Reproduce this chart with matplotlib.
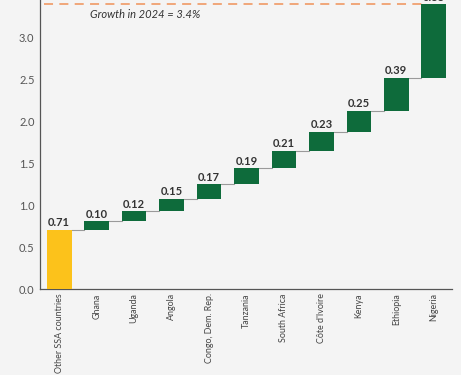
import matplotlib.pyplot as plt
import numpy as np

countries = ["Other SSA countries", "Ghana", "Uganda", "Angola", "Congo, Dem. Rep.",
             "Tanzania", "South Africa", "Côte d'Ivoire", "Kenya", "Ethiopia", "Nigeria"]
contrib = [0.71, 0.10, 0.12, 0.15, 0.17, 0.19, 0.21, 0.23, 0.25, 0.39, 0.88]
total_growth = 3.4

plt.rcParams['font.family'] = ['Lato', 'DejaVu Sans']

bg = "#f4f4f4"
green = "#0e6b3b"
yellow = "#fcc21b"

fig = plt.figure(figsize=(4.61, 3.75), dpi=100, facecolor=bg)
ax = fig.add_axes([0.087, 0.229, 0.893, 0.771])
ax.set_facecolor(bg)

x = np.arange(len(countries))
vals = np.array(contrib)
tops = np.cumsum(vals)
bottoms = tops - vals
colors = [yellow] + [green] * (len(vals) - 1)
w = 0.66

ax.bar(x, vals, bottom=bottoms, width=w, color=colors, zorder=3)

# connectors
for i in range(len(vals) - 1):
    ax.plot([x[i] + w / 2, x[i + 1] - w / 2], [tops[i], tops[i]],
            color="#9a9a9a", lw=0.8, zorder=2)

for i in range(len(vals)):
    ax.text(x[i], tops[i] + 0.02, f"{vals[i]:.2f}", ha="center", va="bottom",
            fontsize=8, fontweight="bold", color="#333333")

ax.axhline(total_growth, xmin=0.01, xmax=0.93, color="#f0a070", lw=1.3,
           ls=(0, (5, 3.5)), zorder=1)
ax.text(0.83, 3.28, "Growth in 2024 = 3.4%", ha="left", va="center",
        fontsize=8, style="italic", color="#333333")

ax.set_xlim(-0.51, 10.48)
ax.set_ylim(0, 3.45)
ax.set_yticks([0, 0.5, 1.0, 1.5, 2.0, 2.5, 3.0])
ax.set_yticklabels([f"{v:.1f}" for v in [0, 0.5, 1.0, 1.5, 2.0, 2.5, 3.0]],
                   fontsize=8, color="#555555")
ax.set_xticks(x)
ax.set_xticklabels(countries, rotation=90, fontsize=6.4, color="#444444")
ax.tick_params(axis="y", length=0, pad=4)
ax.tick_params(axis="x", length=0, pad=3)
for s in ["top", "right"]:
    ax.spines[s].set_visible(False)
for s in ["left", "bottom"]:
    ax.spines[s].set_color("#555555")
    ax.spines[s].set_linewidth(0.9)

fig.savefig("out.png", dpi=100, facecolor=bg)
